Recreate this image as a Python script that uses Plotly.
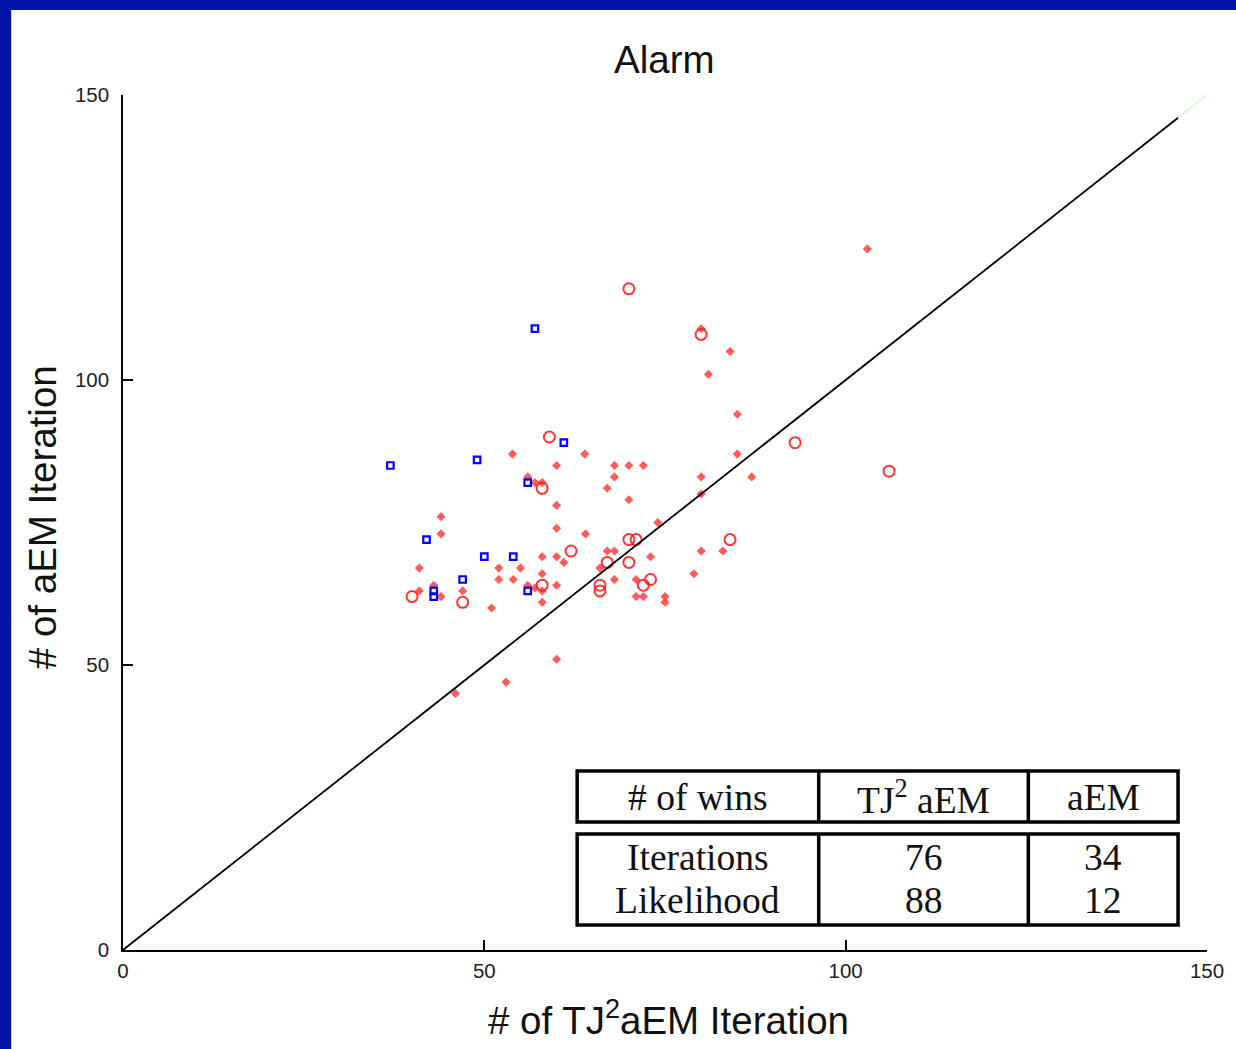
import plotly.graph_objects as go

# ---------------- data ----------------
red_dot_x = [63.9, 53.9, 85, 60, 68, 70, 72, 56, 68, 80, 87, 58, 57, 67, 70, 80, 60, 44, 74, 60, 64, 44,
             67, 68, 80, 83, 58, 60, 73, 61, 41, 52, 55, 66, 58, 79, 52, 54, 68, 71, 56, 60, 43, 41, 44,
             47, 58, 57, 71, 72, 75, 75, 58, 51, 60, 53, 46, 103, 80, 84, 81, 85]
red_dot_y = [87, 87, 87, 85, 85, 85, 85, 83, 83, 83, 83, 82, 82, 81, 79, 80, 78, 76, 75, 74, 73, 73,
             70, 70, 70, 70, 69, 69, 69, 68, 67, 67, 67, 67, 66, 66, 65, 65, 65, 65, 64, 64, 64, 63, 62,
             63, 63, 63.5, 62, 62, 62, 61, 61, 60, 51, 47, 45, 123, 109, 105, 101, 94]

red_circle_x = [59, 58, 62, 40, 47, 58, 70, 80, 93, 106, 70, 71, 84, 67, 70, 73, 72, 66, 66]
red_circle_y = [90, 81, 70, 62, 61, 64, 116, 108, 89, 84, 72, 72, 72, 68, 68, 65, 64, 64, 63]

blue_sq_x = [61, 37, 49, 56, 42, 50, 54, 47, 43, 43, 56, 57]
blue_sq_y = [89, 85, 86, 82, 72, 69, 69, 65, 63, 62, 63, 109]

diag_x = [0, 146]
diag_y = [0, 146]
diag_tail_x = [146, 150]
diag_tail_y = [146, 150]

tick_vals = [0, 50, 100, 150]
tick_text = ["0", "50", "100", "150"]

title_text = "Alarm"
x_title = "# of TJ<sup>2</sup>aEM Iteration"
y_title = "# of aEM Iteration"

table_header = ["# of wins", "TJ<sup>2</sup> aEM", "aEM"]
table_rows = ["Iterations", "Likelihood"]
table_tj2 = ["76", "88"]
table_aem = ["34", "12"]

# ---------------- layout helpers ----------------
W, H = 1236, 1049
L, R, T, B = 123, 1209, 95, 950


def px(xp):
    return (xp - L) / (R - L)


def py(yp):
    return (B - yp) / (B - T)


fig = go.Figure()

fig.add_trace(go.Scatter(x=red_dot_x, y=red_dot_y, mode="markers",
                         marker=dict(symbol="diamond", size=7, color="rgba(255,50,50,0.8)",
                                     line=dict(width=0)),
                         showlegend=False, hoverinfo="x+y"))
fig.add_trace(go.Scatter(x=red_circle_x, y=red_circle_y, mode="markers",
                         marker=dict(symbol="circle-open", size=11, color="rgba(255,30,30,0.9)",
                                     line=dict(width=2)),
                         showlegend=False, hoverinfo="x+y"))
fig.add_trace(go.Scatter(x=blue_sq_x, y=blue_sq_y, mode="markers",
                         marker=dict(symbol="square-open", size=6.5, color="#0000ff",
                                     line=dict(width=2.2)),
                         showlegend=False, hoverinfo="x+y"))
fig.add_trace(go.Scatter(x=diag_x, y=diag_y, mode="lines",
                         line=dict(color="black", width=1.8), showlegend=False, hoverinfo="skip"))
fig.add_trace(go.Scatter(x=diag_tail_x, y=diag_tail_y, mode="lines",
                         line=dict(color="#d8f8d8", width=1.8), showlegend=False, hoverinfo="skip"))

axis_common = dict(range=[0, 150], tickvals=tick_vals, ticktext=tick_text, showgrid=False,
                   zeroline=False, showline=True, linecolor="black", linewidth=1.5,
                   ticks="inside", ticklen=10, tickwidth=1.5, tickcolor="black",
                   tickfont=dict(family="Liberation Sans", size=20.5, color="#222"))
fig.update_xaxes(**axis_common, ticklabelstandoff=2)
fig.update_yaxes(**axis_common, ticklabelstandoff=8)

shapes = []
# blue page frame
blue = "#0014a8"
shapes.append(dict(type="rect", xref="paper", yref="paper", x0=px(-5), x1=px(11), y0=py(H + 5), y1=py(-5),
                   fillcolor=blue, line=dict(width=0), layer="below"))
shapes.append(dict(type="rect", xref="paper", yref="paper", x0=px(-5), x1=px(W + 5), y0=py(10), y1=py(-5),
                   fillcolor=blue, line=dict(width=0), layer="below"))

# table boxes
tx0, tx1 = 578, 1180
c1, c2 = 820, 1030
hy0, hy1 = 771, 822
by0, by1 = 834, 925
lw = 3.5
for (ya, yb) in [(hy0, hy1), (by0, by1)]:
    shapes.append(dict(type="rect", xref="paper", yref="paper", x0=px(tx0), x1=px(tx1),
                       y0=py(yb), y1=py(ya), line=dict(color="black", width=lw), fillcolor="white"))
    for cx in (c1, c2):
        shapes.append(dict(type="line", xref="paper", yref="paper", x0=px(cx), x1=px(cx),
                           y0=py(yb), y1=py(ya), line=dict(color="black", width=lw)))
fig.update_layout(shapes=shapes)

sans = dict(family="Liberation Sans", size=38.5, color="#111")
ann = []
ann.append(dict(text=title_text, x=px(665), y=py(60), xref="paper", yref="paper", showarrow=False,
                xanchor="center", yanchor="middle", font=sans))
ann.append(dict(text=x_title, x=px(670), y=py(1018), xref="paper", yref="paper", showarrow=False,
                xanchor="center", yanchor="middle", font=sans))
ann.append(dict(text=y_title, x=px(42), y=py(517), xref="paper", yref="paper", showarrow=False,
                textangle=-90, xanchor="center", yanchor="middle", font=sans))

serif = dict(family="Liberation Serif", size=37.5, color="#111")
col_cx = [(tx0 + c1) / 2, (c1 + c2) / 2, (c2 + tx1) / 2]
for i, t in enumerate(table_header):
    ann.append(dict(text=t, x=px(col_cx[i]), y=py(797), xref="paper", yref="paper", showarrow=False,
                    xanchor="center", yanchor="middle", font=serif))
row_cy = [857, 900]
for r in range(len(table_rows)):
    for i, t in enumerate([table_rows[r], table_tj2[r], table_aem[r]]):
        ann.append(dict(text=t, x=px(col_cx[i]), y=py(row_cy[r]), xref="paper", yref="paper",
                        showarrow=False, xanchor="center", yanchor="middle", font=serif))
fig.update_layout(annotations=ann)

fig.update_layout(width=W, height=H, margin=dict(l=L, r=W - R, t=T, b=H - B),
                  paper_bgcolor="white", plot_bgcolor="white")

fig.write_html("out.html")
